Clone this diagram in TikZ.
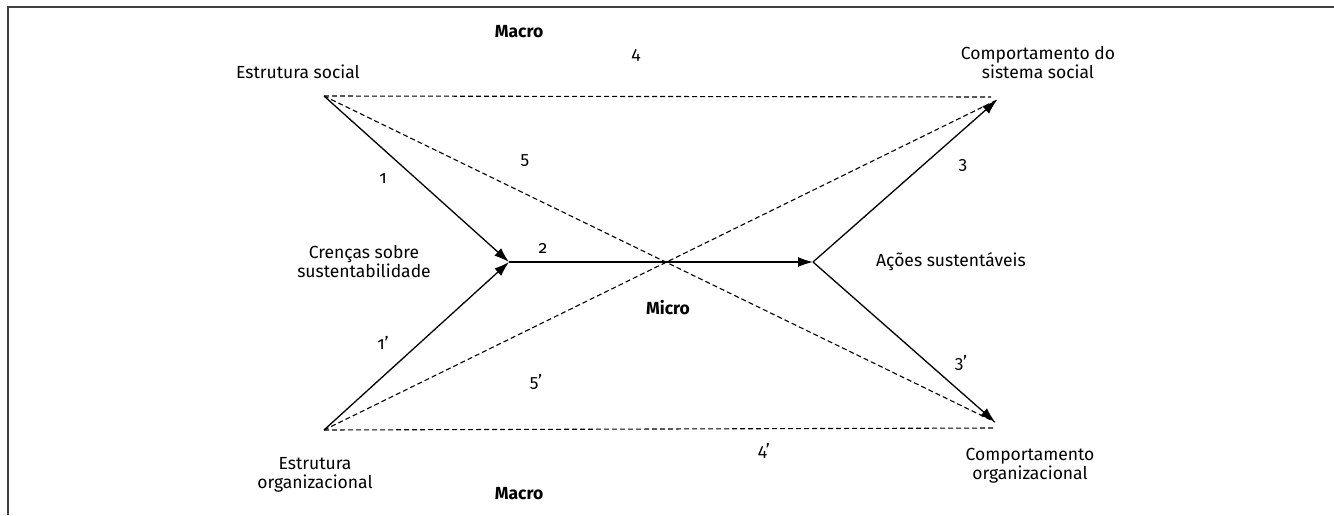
\documentclass[tikz,border=0pt]{standalone}
\usepackage{fontspec}
\setmainfont{Fira Sans}[Numbers=OldStyle]
\usetikzlibrary{arrows.meta}

\tikzset{
	lbl/.style={font=\fontsize{17.5}{19}\selectfont, align=center, inner sep=0pt},
	macrolbl/.style={lbl, font=\fontsize{17.5}{19}\selectfont\bfseries},
	solidarrow/.style={line width=1.3pt, -{Latex[length=15pt,width=10pt]}},
	dashline/.style={line width=1.1pt, dash pattern=on 5pt off 3pt}
}

\begin{document}
\begin{tikzpicture}[x=1pt,y=-1pt]
	\useasboundingbox (0,0) rectangle (1334,515);
	%frame
	\draw[line width=1.6pt, black!75] (8,515)--(8,7)--(1334,7);

	%points
	\coordinate (es) at (324,96);		%estrutura social
	\coordinate (eo) at (324,430);		%estrutura organizacional
	\coordinate (cr) at (509,262);		%crencas
	\coordinate (ac) at (813,262);		%acoes
	\coordinate (css) at (997,100);		%comportamento sistema social
	\coordinate (co) at (995,422);		%comportamento organizacional
		\coordinate (css4) at (991,97);
		\coordinate (co4) at (994,428);

	%captions
	\node[lbl] (esl) at (298,72) {Estrutura social};
	\node[lbl] (eol) at (315,475) {Estrutura\\organizacional};
	\node[lbl] (crl) at (364,262) {Crenças sobre\\sustentabilidade};
	\node[lbl] (acl) at (951,262) {Ações sustentáveis};
	\node[lbl] (cssl) at (1038,63) {Comportamento do\\sistema social};
	\node[lbl] (col) at (1030,466) {Comportamento\\organizacional};
	\node[macrolbl] (macrotop) at (519,32) {Macro};
	\node[macrolbl] (micro) at (668,308) {Micro};
	\node[macrolbl] (macrobot) at (519,494) {Macro};

	%dashed lines
	\draw[dashline] (es)--(css4);		%4
	\draw[dashline] (es)--(co);			%5
	\draw[dashline] (eo)--(css);		%5'
	\draw[dashline] (eo)--(co4);		%4'

	%solid arrows
	\draw[solidarrow] (es)--(cr);		%1
	\draw[solidarrow] (eo)--(cr);		%1'
	\draw[solidarrow] (cr)--(ac);		%2
	\draw[solidarrow] (ac)--(css);		%3
	\draw[solidarrow] (ac)--(co);		%3'

	%numbers
	\node[lbl] (n1) at (383,179) {1};
	\node[lbl] (n1p) at (383,343) {1’};
	\node[lbl] (n2) at (543,248) {2};
	\node[lbl] (n3) at (963,165) {3};
	\node[lbl] (n3p) at (961,363) {3’};
	\node[lbl] (n4) at (636,55) {4};
	\node[lbl] (n4p) at (764,451) {4’};
	\node[lbl] (n5) at (525,161) {5};
	\node[lbl] (n5p) at (536,382) {5’};
\end{tikzpicture}
\end{document}
